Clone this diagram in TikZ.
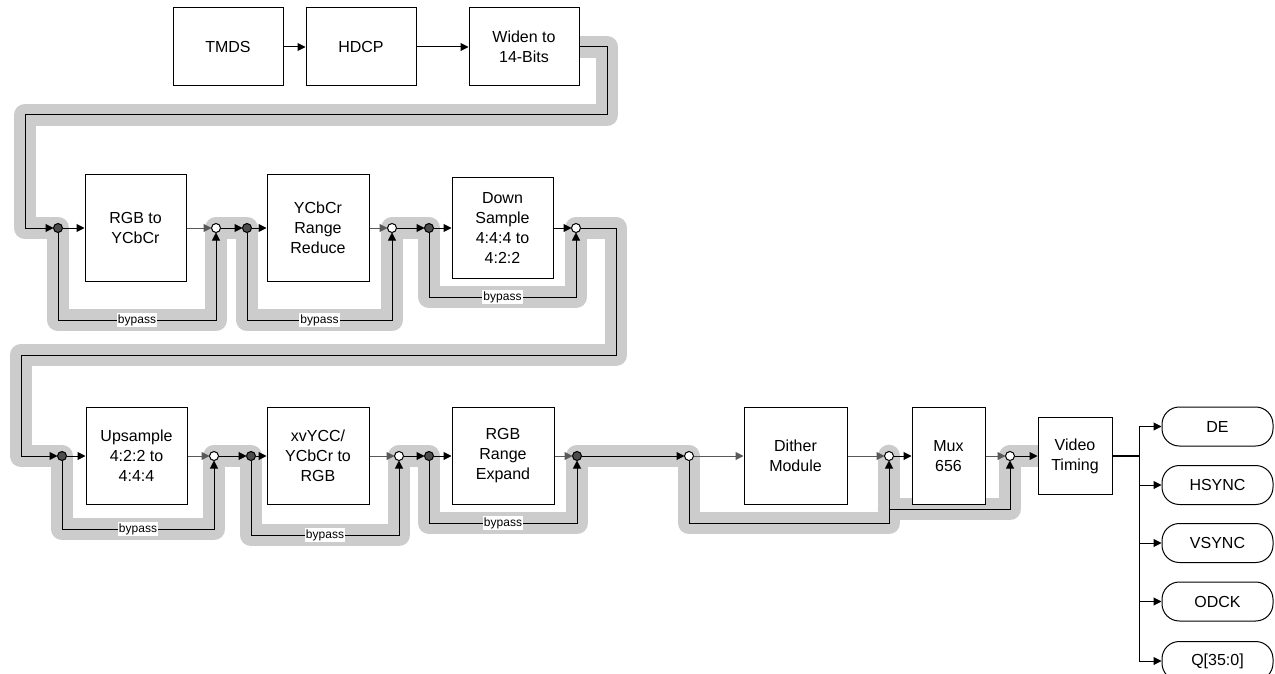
\documentclass[tikz,border=0pt]{standalone}
\usepackage{fontspec}
\setmainfont{Liberation Sans}
\usetikzlibrary{arrows.meta}

\begin{document}
\begin{tikzpicture}[x=0.75pt,y=-0.75pt,every path/.style={line width=0.75pt},
  blk/.style={draw,fill=white,align=center,inner sep=0pt,font=\fontsize{12}{15}\selectfont},
  dk/.style={circle,draw,fill=black!70,minimum size=6.75pt,inner sep=0pt,outer sep=0pt},
  wt/.style={circle,draw,fill=white,minimum size=6.75pt,inner sep=0pt,outer sep=0pt},
  arr/.style={-{Triangle[length=6pt,width=6pt]}},
  gl/.style={draw=black!65},
  lbl/.style={fill=white,inner sep=1pt,font=\fontsize{9}{10}\selectfont},
  term/.style={draw,fill=white,rounded corners=13pt,minimum width=83.25pt,minimum height=29.25pt,font=\fontsize{12}{15}\selectfont},
  hl/.style={draw=black!20,line width=17pt,line join=round,line cap=round}]
\useasboundingbox (0,0) rectangle (1275,674);
% highlighted data path
\draw[hl] (524,47) -- (607,47) -- (607,115) -- (25,115) -- (25,228) -- (58,228) -- (58,320) -- (216,320) -- (216,228) -- (247,228) -- (247,320) -- (392,320) -- (392,228) -- (429,228) -- (429,297) -- (576,297) -- (576,228) -- (616,228) -- (616,355) -- (21,355) -- (21,456) -- (62,456) -- (62,529) -- (214,529) -- (214,456) -- (251,456) -- (251,535) -- (399,535) -- (399,456) -- (429,456) -- (429,523) -- (577,523) -- (577,456) -- (689,456) -- (689,523) -- (889,523) -- (889,456);
\draw[hl] (889,509) -- (1010,509) -- (1010,456) -- (1075,456);
% input row
\node[blk,minimum width=82.5pt,minimum height=58.5pt] (b1) at (228,47) {TMDS};
\node[blk,minimum width=82.5pt,minimum height=58.5pt] (b2) at (361,47) {HDCP};
\node[blk,minimum width=82.5pt,minimum height=58.5pt] (b3) at (524,47) {Widen to\\14-Bits};
% second row
\node[dk] (d1) at (58,228) {};
\node[blk,minimum width=75.75pt,minimum height=80.25pt] (b4) at (135.5,228) {RGB to\\YCbCr};
\node[wt] (w1) at (216,228) {};
\node[dk] (d2) at (247,228) {};
\node[blk,minimum width=76.5pt,minimum height=80.25pt] (b5) at (318,228) {YCbCr\\Range\\Reduce};
\node[wt] (w2) at (392,228) {};
\node[dk] (d3) at (429,228) {};
\node[blk,minimum width=75.75pt,minimum height=75.75pt] (b6) at (502.5,228) {Down\\Sample\\4:4:4 to\\4:2:2};
\node[wt] (w3) at (576,228) {};
% third row
\node[dk] (d4) at (62,456) {};
\node[blk,minimum width=75.75pt,minimum height=72.75pt] (b7) at (136.5,456) {Upsample\\4:2:2 to\\4:4:4};
\node[wt] (w4) at (214,456) {};
\node[dk] (d5) at (251,456) {};
\node[blk,minimum width=76.5pt,minimum height=72.75pt] (b8) at (318,456) {xvYCC/\\YCbCr to\\RGB};
\node[wt] (w5) at (399,456) {};
\node[dk] (d6) at (429,456) {};
\node[blk,minimum width=76.5pt,minimum height=72.75pt] (b9) at (503,456) {RGB\\Range\\Expand};
\node[dk] (d7) at (577,456) {};
\node[wt] (w6) at (689,456) {};
\node[blk,minimum width=77.25pt,minimum height=72.75pt] (b10) at (795.5,456) {Dither\\Module};
\node[wt] (w7) at (889,456) {};
\node[blk,minimum width=54.75pt,minimum height=72.75pt] (b11) at (948.5,456) {Mux\\656};
\node[wt] (w8) at (1010,456) {};
\node[blk,minimum width=55.5pt,minimum height=57.75pt] (b12) at (1075,456) {Video\\Timing};
% outputs
\node[term] (o1) at (1217.5,426.5) {DE};
\node[term] (o2) at (1217.5,485) {HSYNC};
\node[term] (o3) at (1217.5,543) {VSYNC};
\node[term] (o4) at (1217.5,601.5) {ODCK};
\node[term] (o5) at (1217.5,661) {Q[35:0]};
\coordinate (t1) at (607,115);
\coordinate (t2) at (25,228);
\coordinate (t3) at (616,355);
\coordinate (t4) at (21,456);
\coordinate (t5) at (889,509);
\coordinate (t6) at (1139,456);
% connections
\draw[arr] (b1) -- (b2);
\draw[arr] (b2) -- (b3);
\draw[arr] (b3) -| (t1) -| (t2) -- (d1);
\draw[arr] (d1) -- (b4);
\draw[arr,gl] (b4) -- (w1);
\draw[arr] (w1) -- (d2);
\draw[arr] (d2) -- (b5);
\draw[arr,gl] (b5) -- (w2);
\draw[arr] (w2) -- (d3);
\draw[arr] (d3) -- (b6);
\draw[arr] (b6) -- (w3);
\draw[arr] (d1) -- ++(0,92) -| node[pos=.25,lbl] {bypass} (w1);
\draw[arr] (d2) -- ++(0,92) -| node[pos=.25,lbl] {bypass} (w2);
\draw[arr] (d3) -- ++(0,69) -| node[pos=.25,lbl] {bypass} (w3);
\draw[arr] (w3) -| (t3) -| (t4) -- (d4);
\draw[arr] (d4) -- (b7);
\draw[arr,gl] (b7) -- (w4);
\draw[arr] (w4) -- (d5);
\draw[arr] (d5) -- (b8);
\draw[arr,gl] (b8) -- (w5);
\draw[arr] (w5) -- (d6);
\draw[arr] (d6) -- (b9);
\draw[arr,gl] (b9) -- (d7);
\draw[arr] (d7) -- (w6);
\draw[arr,gl] (w6) -- (b10);
\draw[arr,gl] (b10) -- (w7);
\draw[arr] (w7) -- (b11);
\draw[arr,gl] (b11) -- (w8);
\draw[arr] (w8) -- (b12);
\draw[arr] (d4) -- ++(0,73) -| node[pos=.25,lbl] {bypass} (w4);
\draw[arr] (d5) -- ++(0,79) -| node[pos=.25,lbl] {bypass} (w5);
\draw[arr] (d6) -- ++(0,67) -| node[pos=.25,lbl] {bypass} (d7);
\draw[arr] (w6) -- ++(0,67) -| (w7);
\draw[arr] (t5) -| (w8);
\draw[line width=1.5pt] (b12) -- (t6);
\draw[arr] (t6) |- (o1);
\draw[arr] (t6) |- (o2);
\draw[arr] (t6) |- (o3);
\draw[arr] (t6) |- (o4);
\draw[arr] (t6) |- (o5);
\end{tikzpicture}
\end{document}
